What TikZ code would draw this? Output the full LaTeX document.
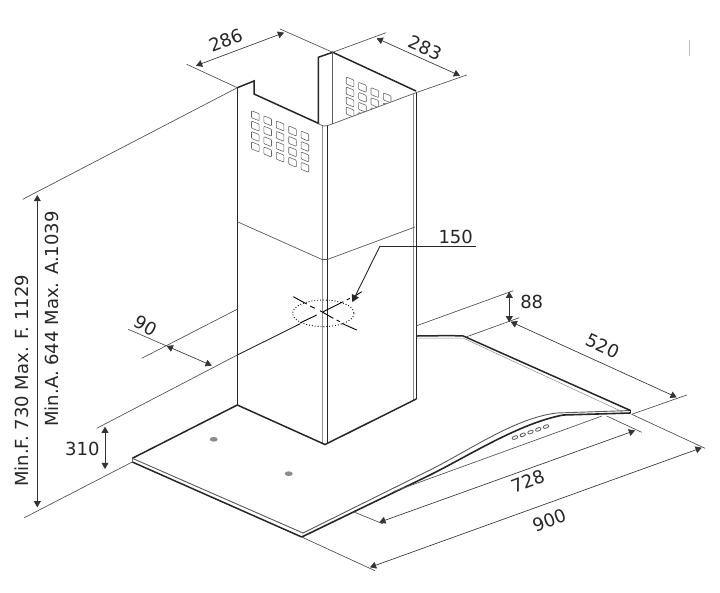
\documentclass[tikz,border=0pt]{standalone}
\usepackage{fontspec}
\setmainfont{DejaVu Sans}
\usetikzlibrary{calc}
\usetikzlibrary{arrows}

\begin{document}
\begin{tikzpicture}[x=1pt,y=-1pt]
  \tikzset{myedge/.style={black!85, line width=1.5pt}};
  \tikzset{mythin/.style={black!65, line width=0.7pt}};
  \tikzset{mygrey/.style={black!45, line width=0.8pt}};
  \tikzset{myext/.style={black!70, line width=0.65pt}};
  \tikzset{mydim/.style={<->, black!80, line width=0.65pt, >=triangle 60}};
  \tikzset{mytext/.style={black!85, font=\fontsize{18}{18}\selectfont, inner sep=0pt}};
  \tikzset{myhole/.style={black!60, line width=0.6pt, rounded corners=0.8pt}};
  \useasboundingbox (0,0) rectangle (720,592);

  \coordinate (topl) at (237.3,87.7);
  \coordinate (topb) at (332.7,52.3);
  \coordinate (topr) at (416,91);
  \coordinate (botl) at (237.3,405);
  \coordinate (botm) at (325,444.5);
  \coordinate (botr) at (416.3,399);
  \coordinate (hoodl) at (132.3,458.3);
  \coordinate (hoodf) at (301.7,537);
  \coordinate (hoodr) at (630.5,413);
  \coordinate (hoodb) at (463.3,336);

  % chimney
  \draw [myedge] (botl) -- (topl);
  \draw [myedge] (topl) -- (254,81) -- (254,94) -- (318.3,123.3) -- (318.3,57.3) -- (topb) -- (topr);
  \draw [mythin] (topb) -- (332.7,124);
  \draw [mythin, rounded corners=2pt] (318.3,123.3) -- (322,126) -- (326.7,126) -- (416,92.7);
  \draw [mygrey] (322,126) -- (322,444);
  \draw [myedge, line width=1pt] (327.3,126) -- (327.3,444);
  \draw [mygrey] (413.6,93.5) -- (413.6,400);
  \draw [myedge] (416.3,91.5) -- (botr);
  \draw [mythin] (237.3,221.7) -- (322,259.5) -- (327.3,259.5) -- (415,227);

  % holes
  \foreach \c in {0,...,4}
    \foreach \r in {0,...,3}
      \draw [myhole] ($(255.3,115.7)+(12.4*\c,5.1*\c)+(0,10.4*\r)+(-3.8,-5)$)
        -- ++(7.6,3) -- ++(0,7) -- ++(-7.6,-3) -- cycle;
  \begin{scope}
    \clip (326.7,126) -- (416,92.7) -- (416,50) -- (326.7,50) -- cycle;
    \foreach \c in {0,...,3}
      \foreach \r in {0,...,3}
        \draw [myhole] ($(350,82)+(12.4*\c,5.3*\c)+(0,10*\r)+(-3.8,-5)$)
          -- ++(7.6,3) -- ++(0,7) -- ++(-7.6,-3) -- cycle;
  \end{scope}

  % hood
  \draw [myedge] (botl) -- (hoodl);
  \draw [myedge] (botl) -- (botm) -- (botr);
  \draw [mythin, line width=0.9pt] (hoodl) -- (303,533);
  \draw [myedge] (132.3,462) -- (hoodf);
  \draw [black!60, line width=0.6pt] (hoodl) -- (132.3,462);
  \draw [myedge, line width=1.6pt] (hoodf) -- (430,475) .. controls (470,455) and (520,423) .. (563.3,415) -- (hoodr);
  \draw [mythin, line width=0.9pt] (303,533) -- (430,470) .. controls (470,450) and (515,418) .. (556.7,413) -- (630.5,410.5);
  \draw [black!85, line width=1pt] (hoodr) -- (630.5,410);
  \draw [myedge] (630.5,410.5) -- (hoodb) -- (450,335.6) -- (417,336);
  \draw [mygrey, line width=0.5pt] (417,338) -- (463,338) -- (625,413);
  \draw [mythin] (393.3,491.7) -- (602,416);
  \foreach \b in {0,...,4}
    \draw [black!65, line width=0.8pt, rounded corners=1pt] ($(515,438.3)+(7.75*\b,-2.75*\b)+(-3,-1)$)
      -- ++(5,-2) -- ++(1,2.6) -- ++(-5,2) -- cycle;
  \fill [black!45] (213.7,439.3) ellipse (4 and 2.4);
  \fill [black!45] (288.7,473.7) ellipse (4 and 2.4);

  % hole for the duct
  \draw [black, line width=0.9pt, dotted] (323.3,313.3) ellipse (30.7 and 13.3);
  \coordinate (ductl) at (295.7,326);
  \draw [myedge, line width=0.9pt] (botl |- 0,355) -- (ductl);
  \draw [black, line width=0.9pt] (ductl) -- (300,323.8)  (300,323) -- (316.7,315) (323.3,311.7) -- (343.3,301.7) (346.7,300) -- (350,298.3) (355,296) -- (361.7,291.7);
  \draw [black, line width=0.9pt] (293.3,296.7) -- (306.7,304) (310,306) -- (315,308.3) (320,310.7) -- (333.3,318.3) (336.7,320) -- (340,321.7) (341.7,323.3) -- (356.7,330);

  % dimensions
  \draw [myext] (186.7,64.3) -- (topl);
  \draw [myext] (280,29) -- (topb);
  \draw [mydim] (196,65.7) -- (284,32.7);
  \node [mytext, rotate=21] (w286) at (225.7,40) {286};

  \draw [myext] (386,32.7) -- (topb);
  \draw [myext] (466.7,75) -- (416,92.7);
  \draw [mydim] (376.7,38.3) -- (460,75.7);
  \node [mytext, rotate=-24] (d283) at (425,47.7) {283};

  \draw [myext] (22.7,199.3) -- (topl);
  \draw [myext] (24.3,517.7) -- (132.3,462);
  \draw [mydim] (37.3,195) -- (37.3,507.3);
  \node [mytext, rotate=90] (hmaxf) at (21.7,380.8) {Min.F. 730 Max. F. 1129};
  \node [mytext, rotate=90] (hmaxa) at (51.7,319) {Min.A. 644 Max. A.1039};

  \draw [myext] (96.7,428.3) -- (botl |- 0,355);
  \draw [mydim] (105,426.7) -- (105,469);
  \node [mytext] (h310) at (82.3,449) {310};

  \draw [myext] (141.7,358.3) -- (237.7,309);
  \draw [myext] (128.3,329.3) -- (166.7,346);
  \draw [mydim] (166.7,346) -- (211.7,365.5);
  \node [mytext, rotate=-30] (o90) at (145.7,326) {90};

  \draw [black!85, line width=0.8pt] (476,246) -- (380,246);
  \draw [->, black!85, line width=0.9pt, >=triangle 60] (380,246) -- (352.3,302);
  \node [mytext] (d150) at (455.7,236.7) {150};

  \draw [myext] (416.7,325.7) -- (513.3,290.7);
  \draw [myext] (466.7,336.7) -- (519.3,317.7);
  \draw [mydim] (509.3,291.7) -- (509.3,322.3);
  \node [mytext] (h88) at (531.7,301.7) {88};

  \draw [myext] (631.7,414.3) -- (686.7,395);
  \draw [mydim] (510.7,321.7) -- (676.7,397.3);
  \node [mytext, rotate=-25] (d520) at (602.7,345.7) {520};

  \draw [myext] (606.7,416) -- (641.7,432.3);
  \draw [myext] (353.3,511.7) -- (383.3,524);
  \draw [mydim] (379.3,522.3) -- (635,430.5);
  \node [mytext, rotate=21] (w728) at (527.7,481) {728};

  \draw [myext] (631.7,414.3) -- (705,448.3);
  \draw [myext] (hoodf) -- (375,570.7);
  \draw [mydim] (370,567.3) -- (701.7,447.7);
  \node [mytext, rotate=21] (w900) at (549.3,520.5) {900};

  \draw [black!25, line width=1pt] (689,40) -- (689,56);
\end{tikzpicture}
\end{document}
